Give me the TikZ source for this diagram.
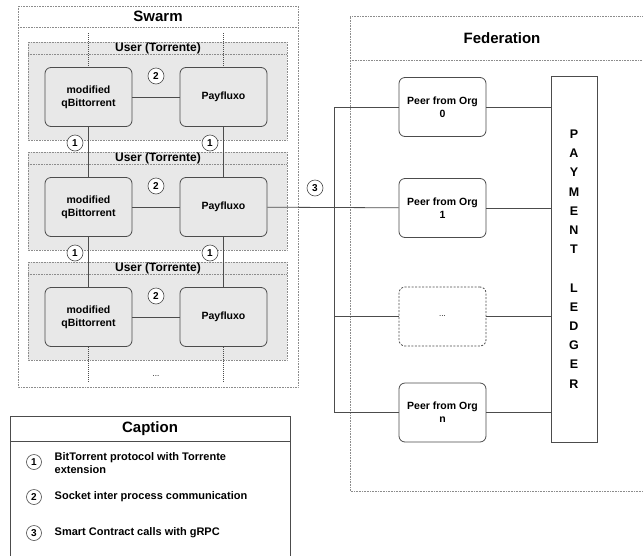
\documentclass[tikz,border=0pt]{standalone}
\usepackage{fontspec}
\setmainfont{Liberation Sans}
\begin{document}
\begin{tikzpicture}[x=1pt, y=-1pt, line width=0.8pt, draw=black!70,
  frame/.style={draw=black!45, densely dotted, line width=0.6pt},
  group/.style={frame, fill=black!9},
  app node/.style={rectangle, rounded corners=6pt, draw=black!70, fill=black!9, minimum width=87pt, minimum height=59pt, align=center, inner sep=1pt, font=\bfseries\fontsize{10.5}{13}\selectfont},
  peer node/.style={app node, fill=white},
  num node/.style={circle, draw=black!70, fill=white, minimum size=16pt, inner sep=0pt, line width=0.6pt, font=\bfseries\fontsize{10}{10}\selectfont},
  title/.style={font=\bfseries\fontsize{15}{17}\selectfont},
  item/.style={anchor=west, align=left, font=\bfseries\fontsize{11}{13.5}\selectfont}]
\useasboundingbox (0,0) rectangle (643,555);
\draw[frame] (18,6) rectangle (298,387);
\draw[frame] (18,27) -- (298,27);
\node[title] (swarm) at (158,16.5) {Swarm};
\foreach \i/\g in {1/42,2/152,3/262}{
  \draw[group] (28,\g) rectangle (287,\g+98);
  \draw[frame] (28,\g+12) -- (287,\g+12);
  \node[font=\bfseries\fontsize{12}{14}\selectfont] (user\i) at (158,\g+6.5) {User (Torrente)};
  \node[app node] (qb\i) at (88.5,\g+55) {modified\\qBittorrent};
  \node[app node] (pf\i) at (223.5,\g+55) {Payfluxo};
  \draw (qb\i) -- (pf\i);
  \node[num node] (ipc\i) at (156,\g+34) {2};
}
\coordinate (qbtop) at (88.5,33);
\coordinate (pftop) at (223.5,33);
\coordinate (qbend) at (88.5,381);
\coordinate (pfend) at (223.5,381);
\path[draw=black!70]
    (qb1) edge (qb2)
    (qb2) edge (qb3)
    (pf1) edge (pf2)
    (pf2) edge (pf3);
\path[densely dotted, draw=black!70, line width=1pt]
    (qbtop) edge (qb1)
    (pftop) edge (pf1)
    (qb3) edge (qbend)
    (pf3) edge (pfend);
\node[num node] (bt1) at (75,143) {1};
\node[num node] (bt2) at (210,143) {1};
\node[num node] (bt3) at (75,253) {1};
\node[num node] (bt4) at (210,253) {1};
\node[font=\fontsize{8}{9}\selectfont] (more) at (156,376) {...};
\draw[frame] (655,16) -- (350,16) -- (350,491) -- (655,491);
\draw[frame] (350,60) -- (655,60);
\node[title] (fed) at (502,38) {Federation};
\node[peer node] (peer0) at (442.5,107) {Peer from Org\\0};
\node[peer node] (peer1) at (442.5,208) {Peer from Org\\1};
\node[peer node, dashed, dash pattern=on 2pt off 1.5pt, font=\fontsize{8}{9}\selectfont] (peerdots) at (442.5,316.5) {...};
\node[peer node] (peern) at (442.5,412.5) {Peer from Org\\n};
\node[draw=black!70, fill=white, minimum width=46pt, minimum height=366pt, align=center, font=\bfseries\fontsize{12.5}{19.2}\selectfont] (ledger) at (574,259) {P\\A\\Y\\M\\E\\N\\T\\[19.2pt]L\\E\\D\\G\\E\\R};
\coordinate (bus0) at (334,107);
\coordinate (bus2) at (334,316.5);
\coordinate (busn) at (334,412.5);
\draw (pf2) -- (peer1);
\draw (peer0) -- (bus0) -- (busn) -- (peern);
\draw (bus2) -- (peerdots);
\path
    (peer0) edge (peer0 -| ledger.west)
    (peer1) edge (peer1 -| ledger.west)
    (peerdots) edge (peerdots -| ledger.west)
    (peern) edge (peern -| ledger.west);
\node[num node] (sc) at (315,188) {3};
\draw (10,570) -- (10,416) -- (290,416) -- (290,570);
\draw (10,441) -- (290,441);
\node[title] (caption) at (150,428.5) {Caption};
\node[num node, minimum size=15pt] (key1) at (34,462) {1};
\node[num node, minimum size=15pt] (key2) at (34,497) {2};
\node[num node, minimum size=15pt] (key3) at (34,533) {3};
\node[item] (text1) at (51,463) {BitTorrent protocol with Torrente\\extension};
\node[item] (text2) at (51,497) {Socket inter process communication};
\node[item] (text3) at (51,533) {Smart Contract calls with gRPC};
\end{tikzpicture}
\end{document}
